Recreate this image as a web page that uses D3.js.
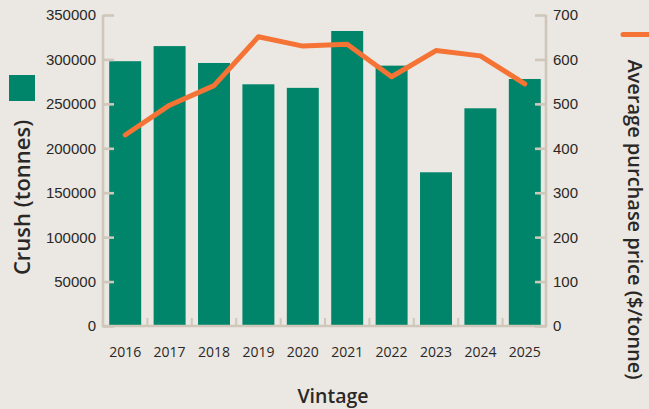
<!DOCTYPE html>
<html><head><meta charset="utf-8">
<script src="https://cdn.jsdelivr.net/npm/d3@7"></script>
<style>
html,body{margin:0;padding:0;background:#EBE7E2;}
svg{display:block;font-family:"Open Sans","Noto Sans",sans-serif;}
</style></head>
<body><svg id="c" width="649" height="409"></svg>
<script>
const years = ["2016","2017","2018","2019","2020","2021","2022","2023","2024","2025"];
const crush = [298000,315000,296000,272000,268000,332000,293000,173000,245000,278000];
const price = [430,497,541,651,630,634,561,620,608,545];
const leftTicks = [0,50000,100000,150000,200000,250000,300000,350000];
const rightTicks = [0,100,200,300,400,500,600,700];

const svg = d3.select("#c");
const axisCol = "#CEC7BA", textCol = "#2A2826";
const x = d3.scaleBand().domain(years).range([103,547]).paddingInner(0.28).paddingOuter(0.14);
const yL = d3.scaleLinear().domain([0,350000]).range([326,15]);
const yR = d3.scaleLinear().domain([0,700]).range([326,15]);

// bars
svg.append("g").selectAll("rect").data(years).join("rect")
  .attr("x", d=>x(d)).attr("width", x.bandwidth())
  .attr("y", (d,i)=>yL(crush[i])).attr("height",(d,i)=>yL(0)-yL(crush[i])-1)
  .attr("fill","#00856A");

// left axis
const gL = svg.append("g").attr("transform","translate(103,0)");
gL.call(d3.axisRight(yL).tickValues(leftTicks).tickSize(11).tickFormat(""));
gL.selectAll("path,line").attr("stroke",axisCol).attr("stroke-width",2.6);
gL.select(".domain").attr("d","M0,"+yL(350000)+"V"+yL(0));
gL.selectAll(".lbl").data(leftTicks).join("text")
  .attr("x",-7).attr("y",d=>yL(d)).attr("dy","0.36em").attr("text-anchor","end")
  .attr("font-size",15).attr("fill",textCol).text(d=>d);

// right axis
const gR = svg.append("g").attr("transform","translate(546,0)");
gR.call(d3.axisLeft(yR).tickValues(rightTicks).tickSize(11).tickFormat(""));
gR.selectAll("path,line").attr("stroke",axisCol).attr("stroke-width",2.6);
gR.select(".domain").attr("d","M0,"+yR(700)+"V"+yR(0));
gR.selectAll(".lbl").data(rightTicks).join("text")
  .attr("x",7).attr("y",d=>yR(d)).attr("dy","0.36em").attr("text-anchor","start")
  .attr("font-size",15).attr("fill",textCol).text(d=>d);

// bottom axis
const gB = svg.append("g").attr("transform","translate(0,326)");
gB.append("line").attr("x1",101.7).attr("x2",547.3).attr("stroke",axisCol).attr("stroke-width",2.6);
gB.selectAll(".bt").data(years.slice(1)).join("line")
  .attr("x1",d=>x(d)-x.step()*x.paddingInner()/2).attr("x2",d=>x(d)-x.step()*x.paddingInner()/2)
  .attr("y1",0).attr("y2",-8).attr("stroke",axisCol).attr("stroke-width",2);
gB.selectAll(".yl").data(years).join("text")
  .attr("x",d=>x(d)+x.bandwidth()/2).attr("y",26).attr("dy","0.36em").attr("text-anchor","middle")
  .attr("font-size",14).attr("fill",textCol).text(d=>d);

// line
const line = d3.line().x((d,i)=>x(years[i])+x.bandwidth()/2).y(d=>yR(d));
svg.append("path").datum(price).attr("d",line).attr("fill","none")
  .attr("stroke","#F47335").attr("stroke-width",5).attr("stroke-linejoin","round").attr("stroke-linecap","round");

// titles
svg.append("text").attr("x",333).attr("y",396).attr("dy","0.36em").attr("text-anchor","middle")
  .attr("font-size",19.5).attr("font-weight",600).attr("fill",textCol).text("Vintage");
svg.append("text").attr("transform","translate(22,197.5) rotate(-90)").attr("dy","0.36em").attr("text-anchor","middle")
  .attr("font-size",22).attr("font-weight",600).attr("fill",textCol).text("Crush (tonnes)");
svg.append("text").attr("transform","translate(635,219.5) rotate(90)").attr("dy","0.36em").attr("text-anchor","middle")
  .attr("font-size",20).attr("font-weight",600).attr("fill",textCol).text("Average purchase price ($/tonne)");

// legend markers
svg.append("rect").attr("x",9).attr("y",75).attr("width",26).attr("height",26).attr("fill","#00856A");
svg.append("line").attr("x1",623).attr("x2",652).attr("y1",34.5).attr("y2",34.5)
  .attr("stroke","#F47335").attr("stroke-width",5).attr("stroke-linecap","round");
</script></body></html>
